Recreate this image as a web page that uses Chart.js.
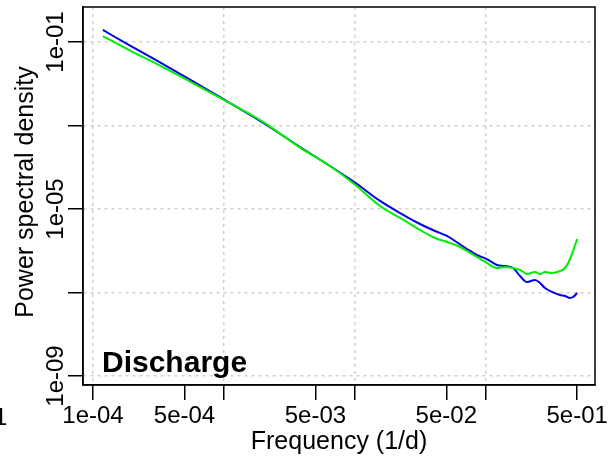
<!DOCTYPE html>
<html>
<head>
<meta charset="utf-8">
<script src="https://cdn.jsdelivr.net/npm/chart.js@4"></script>
<style>
  html, body { margin: 0; padding: 0; background: #fff; }
  #wrap { width: 615px; height: 468px; }
</style>
</head>
<body>
<div id="wrap"><canvas id="mycanvas" width="615" height="468"></canvas></div>
<script>
// frequency (1/d) shared by both spectra
var freq = [1.19e-4, 1.92e-4, 3.25e-4, 5.51e-4, 1.0e-3, 2.0e-3, 3.82e-3, 6.46e-3, 9.9e-3,
  0.0156, 0.0222, 0.0315, 0.0410, 0.0506, 0.0614, 0.0720, 0.0858, 0.102, 0.122, 0.140,
  0.162, 0.183, 0.207, 0.238, 0.260, 0.284, 0.321, 0.369, 0.404, 0.441, 0.465, 0.5];

var psdBlue = [0.194, 0.0815, 0.0325, 0.0126, 4.2e-3, 1.15e-3, 3.05e-4, 1.07e-4, 4.44e-5,
  1.56e-5, 8.0e-6, 4.37e-6, 2.97e-6, 2.26e-6, 1.53e-6, 1.10e-6, 7.9e-7, 6.3e-7, 4.56e-7, 4.31e-7,
  3.86e-7, 2.48e-7, 1.78e-7, 1.99e-7, 1.69e-7, 1.28e-7, 1.03e-7, 8.7e-8, 8.25e-8, 7.4e-8, 7.8e-8, 9.7e-8];

var psdGreen = [0.139, 0.0625, 0.0272, 0.0113, 4.1e-3, 1.21e-3, 2.95e-4, 1.07e-4, 3.97e-5,
  1.18e-5, 6.1e-6, 3.14e-6, 2.02e-6, 1.62e-6, 1.30e-6, 9.86e-7, 7.09e-7, 5.09e-7, 3.86e-7, 4.08e-7,
  3.86e-7, 3.46e-7, 2.77e-7, 3.10e-7, 2.77e-7, 3.10e-7, 2.93e-7, 3.27e-7, 3.86e-7, 6.34e-7, 9.9e-7, 1.91e-6];

var xTicks = [1e-4, 5e-4, 1e-3, 5e-3, 1e-2, 5e-2, 1e-1, 5e-1];
var xLabels = ['1e-04', '5e-04', '', '5e-03', '', '5e-02', '', '5e-01'];
var yTicks = [1e-9, 1e-7, 1e-5, 1e-3, 1e-1];
var yLabels = ['1e-09', '', '1e-05', '', '1e-01'];

var FONT = '"Liberation Sans", Arial, sans-serif';

function pairs(ys) {
  return freq.map(function(f, i) { return {x: f, y: ys[i]}; });
}

var decorations = {
  id: 'decorations',
  afterDraw: function(chart) {
    var ctx = chart.ctx, a = chart.chartArea, ys = chart.scales.y;
    ctx.save();
    // plot box
    ctx.strokeStyle = '#000';
    ctx.lineWidth = 1.5;
    ctx.strokeRect(a.left, a.top, a.right - a.left, a.bottom - a.top);

    ctx.fillStyle = '#000';
    // y tick labels, rotated like R
    ctx.font = '24px ' + FONT;
    ctx.textAlign = 'center';
    ctx.textBaseline = 'alphabetic';
    for (var i = 0; i < yTicks.length; i++) {
      if (!yLabels[i]) continue;
      var py = ys.getPixelForValue(yTicks[i]);
      ctx.save();
      ctx.translate(63, py);
      ctx.rotate(-Math.PI / 2);
      ctx.fillText(yLabels[i], 0, 0);
      ctx.restore();
    }
    // clipped label remnant at the far left
    ctx.textAlign = 'left';
    ctx.fillText('1', -6, 425);

    // axis titles
    ctx.font = '25px ' + FONT;
    ctx.textAlign = 'center';
    ctx.fillText('Frequency (1/d)', (a.left + a.right) / 2, 449);
    ctx.save();
    ctx.translate(33, (a.top + a.bottom) / 2 - 4);
    ctx.rotate(-Math.PI / 2);
    ctx.fillText('Power spectral density', 0, 0);
    ctx.restore();

    // panel label
    ctx.font = 'bold 30px ' + FONT;
    ctx.textAlign = 'left';
    ctx.fillText('Discharge', 102, 372);
    ctx.restore();
  }
};

var ctx = document.getElementById('mycanvas');

var chart = new Chart(ctx, {
  type: 'line',
  data: {
    datasets: [
      {
        label: 'simulated',
        data: pairs(psdGreen),
        borderColor: '#00ee00',
        borderWidth: 2,
        pointRadius: 0,
        cubicInterpolationMode: 'monotone',
        fill: false
      },
      {
        label: 'observed',
        data: pairs(psdBlue),
        borderColor: '#0000ee',
        borderWidth: 2,
        pointRadius: 0,
        cubicInterpolationMode: 'monotone',
        fill: false
      }
    ]
  },
  options: {
    responsive: false,
    animation: false,
    layout: { padding: { top: 7, right: 20, left: 0, bottom: 0 } },
    plugins: { legend: { display: false }, tooltip: { enabled: false } },
    scales: {
      x: {
        type: 'logarithmic',
        bounds: 'data',
        min: 8.39e-5,
        max: 0.684,
        afterBuildTicks: function(scale) {
          scale.ticks = xTicks.map(function(v) { return {value: v}; });
        },
        afterFit: function(scale) { scale.height = 83; },
        ticks: {
          autoSkip: false,
          maxRotation: 0,
          minRotation: 0,
          padding: 2,
          color: '#000',
          font: { family: FONT, size: 24 },
          callback: function(value) {
            var i = xTicks.indexOf(value);
            return i >= 0 ? xLabels[i] : '';
          }
        },
        grid: {
          color: function(c) {
            var v = c.tick ? c.tick.value : 0;
            var e = Math.log10(v);
            return Math.abs(e - Math.round(e)) < 1e-6 ? '#d0d0d0' : 'rgba(0,0,0,0)';
          },
          lineWidth: 1.5,
          tickLength: 15,
          tickColor: '#000',
          tickWidth: 1.5
        },
        border: { display: true, color: '#000', width: 1.5, dash: [3, 4] }
      },
      y: {
        type: 'logarithmic',
        bounds: 'data',
        min: 6.08e-10,
        max: 0.689,
        afterBuildTicks: function(scale) {
          scale.ticks = yTicks.map(function(v) { return {value: v}; });
        },
        afterFit: function(scale) { scale.width = 83; },
        ticks: { display: false },
        grid: {
          color: '#d0d0d0',
          lineWidth: 1.5,
          tickLength: 15,
          tickColor: '#000',
          tickWidth: 1.5
        },
        border: { display: true, color: '#000', width: 1.5, dash: [3, 4] }
      }
    }
  },
  plugins: [decorations]
});
</script>
</body>
</html>
